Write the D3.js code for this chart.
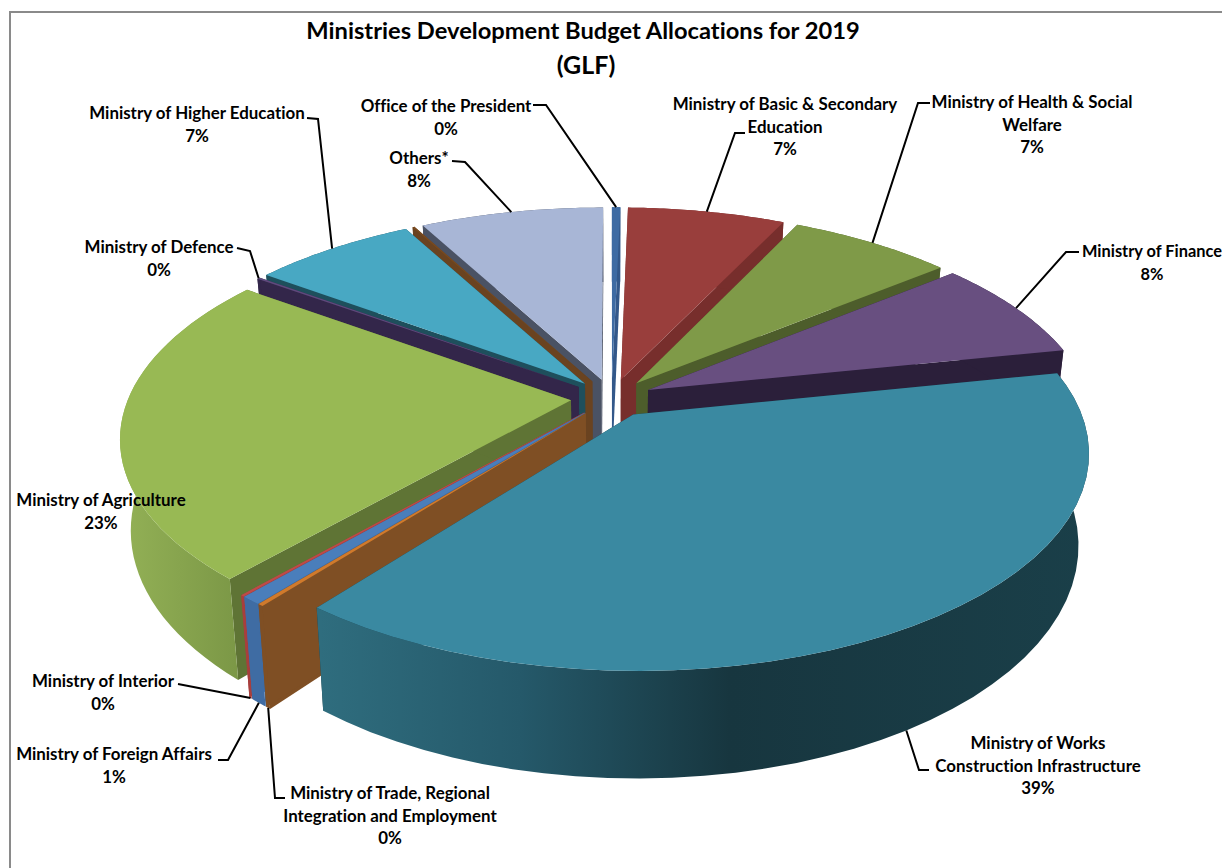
<!DOCTYPE html>
<html><head><meta charset="utf-8">
<script src="https://cdn.jsdelivr.net/npm/d3@7"></script>
<style>html,body{margin:0;padding:0;background:#fff}svg{display:block}text{font-family:Lato,"Open Sans",sans-serif;font-weight:700;fill:#000;font-variant-ligatures:none}</style>
</head><body><svg id="c" width="1222" height="868"></svg>
<script>
const categories=["Ministry of Basic & Secondary Education","Ministry of Health & Social Welfare","Ministry of Finance","Ministry of Works Construction Infrastructure","Ministry of Trade, Regional Integration and Employment","Ministry of Foreign Affairs","Ministry of Interior","Ministry of Agriculture","Ministry of Defence","Ministry of Higher Education","(unlabelled)","Others*","Office of the President"];
const values=[6.75,7.0,7.67,38.8,0.17,0.61,0.11,23.44,0.14,7.0,0.08,7.86,0.36];
const topColors=["#993e3c","#7f9a48","#684f80","#3a89a1","#d07a2c","#4a7ebb","#be4b48","#98b954","#5f4a7d","#48a8c3","#7a4a1e","#a8b6d6","#3e6ba3"];
const sideColors=["#772e2c","#4d5d2b","#2b1f3a","#17363f","#7f4f24","#3f6ca3","#a83f3d","#5f7435","#33264a","#1e4f5c","#6a4320","#4a5264","#33588a"];
const titleLines=["Ministries Development Budget Allocations for 2019","(GLF)"];

const cx=611.5,cy=398,Rx=442.5,Ry=207,k=0.169,ex=0.092,depth=88,shrink=0.978;
const svg=d3.select("#c");
const defs=svg.append("defs");
function grad(id,stops){const g=defs.append("linearGradient").attr("id",id).attr("gradientUnits","userSpaceOnUse").attr("x1",120).attr("x2",1090).attr("y1",0).attr("y2",0);
 stops.forEach(([o,c])=>g.append("stop").attr("offset",(o-120)/970).attr("stop-color",c));}
grad("wWorks",[[320,"#2f6d7e"],[520,"#25596a"],[730,"#17363f"],[1090,"#1a3f49"]]);
grad("wAgri",[[120,"#93b156"],[240,"#7b9746"]]);

svg.append("path").attr("d","M1222,12H10V868").attr("fill","none").attr("stroke","#8a8a8a").attr("stroke-width",2);

const pie=d3.pie().sort(null).value(d=>d).startAngle(1.3*Math.PI/180).endAngle(361.3*Math.PI/180);
const arcs=pie(values).map((a,i)=>({...a,i,mid:(a.startAngle+a.endAngle)/2}));
const project=(u,v)=>{const s=1/(1-k*v);return [cx+Rx*u*s,cy+Ry*v*s,s];};
const lower=p=>[cx+(p[0]-cx)*shrink,p[1]+depth*p[2]];
const rim=(a,th,r=1)=>project(ex*Math.sin(a.mid)+r*Math.sin(th),-ex*Math.cos(a.mid)-r*Math.cos(th));
const line=d3.line();
const arcPts=a=>d3.range(0,41).map(j=>rim(a,a.startAngle+(a.endAngle-a.startAngle)*j/40));
const gl=svg.append("g");
[...arcs].sort((a,b)=>(-Math.cos(a.mid))-(-Math.cos(b.mid))).forEach(a=>{
  const c=sideColors[a.i],pts=arcPts(a),apex=rim(a,0,0);
  const wallFill=a.i===3?"url(#wWorks)":a.i===7?"url(#wAgri)":c;
  const cut=(p)=>[apex,p,lower(p),lower(apex)];
  gl.append("path").attr("d",line(cut(pts[0]))+"Z").attr("fill",c);
  gl.append("path").attr("d",line(cut(pts[40]))+"Z").attr("fill",c);
  gl.append("path").attr("d",line([...pts,...pts.map(lower).reverse()])+"Z").attr("fill",wallFill);
  gl.append("path").attr("d",line([apex,...pts])+"Z").attr("fill",topColors[a.i]);
});

titleLines.forEach((t,i)=>svg.append("text").attr("x",i?586:583).attr("y",39+i*35).attr("text-anchor","middle").attr("font-size",i?25:23.7).text(t));

const layout=[
 {i:0,x:785,y:110,lines:["Ministry of Basic & Secondary","Education"],lead:[[745,133],[735,133]]},
 {i:1,x:1032,y:108,lines:["Ministry of Health & Social","Welfare"],lead:[[930,103],[918,103]]},
 {i:2,x:1152,y:257,size:16.4,lines:["Ministry of Finance"],lead:[[1079,252],[1066,252]]},
 {i:3,x:1038,y:749,lines:["Ministry of Works","Construction  Infrastructure"],lead:[[929,770],[919,770]],low:true},
 {i:4,x:390,y:799,lines:["Ministry of Trade, Regional","Integration and Employment"],lead:[[285,798],[275,798]],low:true},
 {i:5,x:114,y:760,lines:["Ministry of Foreign Affairs"],lead:[[218,760],[228,760]],low:true},
 {i:6,x:103,y:687,lines:["Ministry of Interior"],lead:[[178,684]],low:true},
 {i:7,x:101,y:506,lines:["Ministry of Agriculture"],lead:null},
 {i:8,x:159,y:253,lines:["Ministry of Defence"],lead:[[237,248],[250,251]]},
 {i:9,x:197,y:119,lines:["Ministry of Higher Education"],lead:[[307,118],[318,119]]},
 {i:11,x:419,y:164,lines:["Others*"],lead:[[452,161],[465,162]]},
 {i:12,x:446,y:112,lines:["Office of the President"],lead:[[533,105],[546,105]]}
];
const pct=d3.format(".0f");
layout.forEach(l=>{
  const a=arcs[l.i];
  l.lines.concat(pct(values[l.i])+"%").forEach((t,j)=>svg.append("text").attr("x",l.x).attr("y",l.y+j*22.5).attr("text-anchor","middle").attr("font-size",l.size||16.9).text(t));
  if(l.lead){const r=rim(a,a.mid),e=l.low?lower(r):r;
    svg.append("path").attr("d",line([...l.lead,e])).attr("fill","none").attr("stroke","#000").attr("stroke-width",2);}
});
</script></body></html>
